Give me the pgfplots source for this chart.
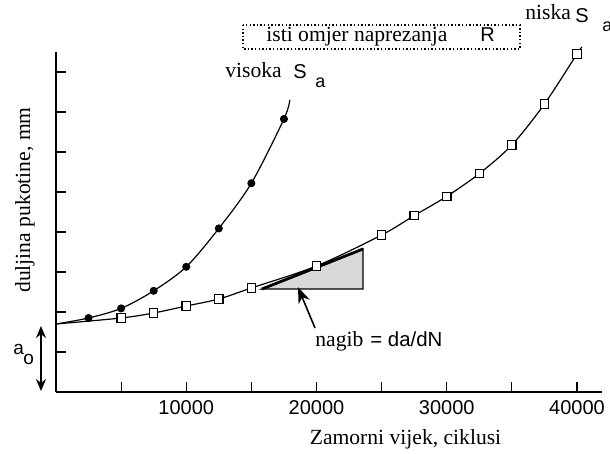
\documentclass[border=0pt]{standalone}
\usepackage{fontspec}
\setmainfont{Liberation Serif}
\setsansfont{Liberation Sans}
\usepackage{pgfplots}
\pgfplotsset{compat=1.18}
\usetikzlibrary{arrows.meta}
\newcommand\lab{\fontsize{10.8}{13}\selectfont}
\newcommand\sfs{\sffamily\fontsize{10}{12}\selectfont}
\newcommand\sfa{\sffamily\fontsize{9}{11}\selectfont}
\begin{document}
\begin{tikzpicture}
\useasboundingbox (-28pt,-31pt) rectangle (277pt,196pt);
\begin{axis}[
  at={(0,0)}, anchor=south west,
  width=273pt, height=170pt, scale only axis,
  xmin=0, xmax=41920, ymin=0, ymax=8.5,
  axis x line*=bottom, axis y line*=left,
  axis line style={-, line width=0.8pt},
  xtick={10000,20000,30000,40000},
  minor xtick={5000,15000,25000,35000},
  ytick={1,2,3,4,5,6,7,8}, yticklabels={},
  scaled x ticks=false,
  tick align=inside,
  major tick length=5pt, minor tick length=5pt,
  tick style={black, line width=0.6pt},
  xticklabel style={font=\sffamily\fontsize{10}{12}\selectfont, yshift=-0.5pt},
  /pgf/number format/assume math mode=true,
  /pgf/number format/1000 sep={},
  clip=false,
]
% tangent triangle
\addplot[fill=gray!30, draw=black, line width=0.7pt] coordinates {(15815,2.575) (23570,2.575) (23570,3.575)} -- cycle;
\addplot[black, line width=1.4pt] coordinates {(15815,2.575) (23570,3.575)};
% low S curve
\addplot[black, line width=0.6pt, smooth] coordinates {
(0,1.7) (5000,1.85) (7500,1.975) (10000,2.15) (12500,2.325) (15000,2.6) (20000,3.15) (25000,3.925) (27500,4.41) (30000,4.89) (32500,5.46) (35000,6.175) (37500,7.2) (40000,8.45) (40384,8.625)};
% high S curve
\addplot[black, line width=0.6pt, smooth] coordinates {
(0,1.7) (2500,1.85) (5000,2.09) (7500,2.53) (10000,3.13) (12500,4.09) (15000,5.22) (17500,6.825) (17950,7.3)};
% markers
\addplot[only marks, mark=square*, mark size=2.1pt, mark options={fill=white, draw=black, line width=0.6pt}] coordinates {
(5000,1.85) (7500,1.975) (10000,2.15) (12500,2.325) (15000,2.6) (20000,3.15) (25000,3.925) (27500,4.41) (30000,4.89) (32500,5.46) (35000,6.175) (37500,7.2) (40000,8.45)};
\addplot[only marks, mark=*, mark size=1.8pt, mark options={fill=black, draw=black}] coordinates {
(2500,1.85) (5000,2.09) (7500,2.53) (10000,3.13) (12500,4.09) (15000,5.22) (17500,6.825)};
% slope arrow
\draw[line width=0.8pt, -{Stealth[length=8pt, width=6pt]}] (axis cs:19885,1.6) -- (axis cs:18580,2.62);
% a_o arrow
\draw[line width=0.8pt, {Stealth[length=6pt, width=5pt]}-{Stealth[length=6pt, width=5pt]}] (axis cs:-1152,1.65) -- (axis cs:-1152,0.025);
% dotted box
\draw[line width=0.8pt, dash pattern=on 0.7pt off 1.1pt] (axis cs:14357,9.175) rectangle (axis cs:35624,8.575);
% texts
\node[anchor=base west, inner sep=0pt] at (axis cs:12975,7.85) {\lab visoka};
\node[anchor=base west, inner sep=0pt] at (axis cs:18196,7.825) {\sfs S};
\node[anchor=base west, inner sep=0pt] at (axis cs:19885,7.6) {\sfa a};
\node[anchor=base west, inner sep=0pt] at (axis cs:36008,9.3) {\lab niska};
\node[anchor=base west, inner sep=0pt] at (axis cs:39846,9.225) {\sfs S};
\node[anchor=base west, inner sep=0pt] at (axis cs:41919,9.0) {\sfa a};
\node[anchor=base west, inner sep=0pt] at (axis cs:16123,8.75) {\lab isti omjer naprezanja};
\node[anchor=base west, inner sep=0pt] at (axis cs:32553,8.75) {\sfs R};
\node[anchor=base west, inner sep=0pt] at (axis cs:19885,1.125) {\lab nagib};
\node[anchor=base west, inner sep=0pt] at (axis cs:24107,1.125) {\sffamily\fontsize{10.2}{12}\selectfont = da/dN};
\node[anchor=base west, inner sep=0pt] at (axis cs:-3301,0.925) {\sffamily\fontsize{9.5}{11}\selectfont a};
\node[anchor=base west, inner sep=0pt] at (axis cs:-2534,0.675) {\sffamily\fontsize{9.5}{11}\selectfont o};
\node[anchor=base, inner sep=0pt] at (axis cs:26833,-1.325) {\lab Zamorni vijek, ciklusi};
\node[rotate=90, anchor=center, inner sep=0pt] at (axis cs:-2380,4.8) {\lab duljina pukotine, mm};
\end{axis}
\end{tikzpicture}
\end{document}
